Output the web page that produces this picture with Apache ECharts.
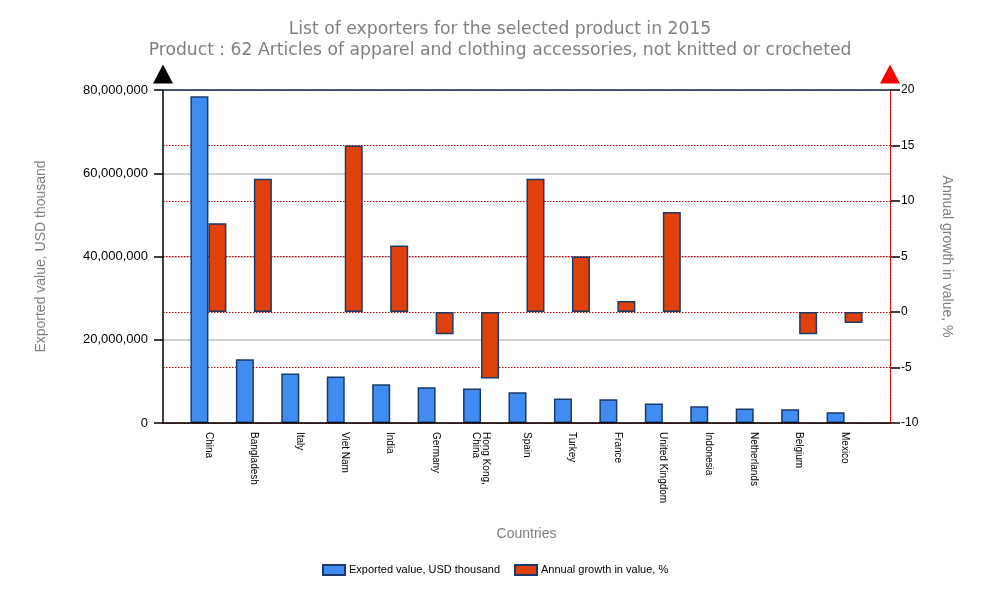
<!DOCTYPE html>
<html>
<head>
<meta charset="utf-8">
<script src="https://cdn.jsdelivr.net/npm/echarts@6/dist/echarts.min.js"></script>
<style>html,body{margin:0;padding:0;background:#fff}#c{width:1000px;height:600px}</style>
</head>
<body>
<div id="c"></div>
<script>
const categories = ['China','Bangladesh','Italy','Viet Nam','India','Germany','Hong Kong, China','Spain','Turkey','France','United Kingdom','Indonesia','Netherlands','Belgium','Mexico'];
const exportedValue = [78500000, 15300000, 11900000, 11200000, 9300000, 8600000, 8300000, 7400000, 5900000, 5700000, 4700000, 4000000, 3500000, 3300000, 2600000];
const annualGrowth = [8, 12, null, 15, 6, -2, -6, 12, 5, 1, 9, null, null, -2, -1];
const titleLines = ['List of exporters for the selected product in 2015', 'Product : 62 Articles of apparel and clothing accessories, not knitted or crocheted'];
const seriesNames = ['Exported value, USD thousand', 'Annual growth in value, %'];

const AF = '"Liberation Sans", Arial, sans-serif';
const TF = '"DejaVu Sans", Verdana, sans-serif';
const GRAY = '#808080';
const chart = echarts.init(document.getElementById('c'), null, {renderer: 'canvas'});

const fmt = v => v.toString().replace(/\B(?=(\d{3})+(?!\d))/g, ',');
const titleStyle = {fontFamily: TF, fontSize: 17.2, fontWeight: 'normal', color: GRAY, lineHeight: 20};

chart.setOption({
  animation: false,
  backgroundColor: '#fff',
  title: [
    {text: titleLines[0], left: 'center', top: 15, textStyle: titleStyle},
    {text: titleLines[1], left: 'center', top: 36, textStyle: titleStyle}
  ],
  legend: {
    bottom: 19, left: 317, itemWidth: 22, itemHeight: 10, itemGap: 14,
    icon: 'rect',
    textStyle: {fontFamily: AF, fontSize: 11, color: '#000', padding: [0, 0, 0, -1]},
    data: seriesNames
  },
  grid: [
    {left: 163, right: 110, top: 90, bottom: 177, containLabel: false},
    {left: 185.7, right: 132.7, top: 90, bottom: 177, containLabel: false}
  ],
  xAxis: [
    {gridIndex: 0, type: 'value', min: 0, max: 1, position: 'bottom', z: 5,
     axisLine: {show: true, onZero: false, lineStyle: {color: '#000', width: 1.5}},
     axisTick: {show: false}, axisLabel: {show: false}, splitLine: {show: false}},
    {gridIndex: 0, type: 'value', min: 0, max: 1, position: 'top', z: 5,
     axisLine: {show: true, onZero: false, lineStyle: {color: '#1f3864', width: 1.5}},
     axisTick: {show: false}, axisLabel: {show: false}, splitLine: {show: false}},
    {gridIndex: 1, type: 'category', data: categories, position: 'bottom',
     axisLine: {show: false}, axisTick: {show: false}, splitLine: {show: false},
     axisLabel: {interval: 0, rotate: -90, margin: 9, fontFamily: AF, fontSize: 10, color: '#000', lineHeight: 10,
       formatter: v => v.replace(', ', ',\n')},
     name: 'Countries', nameLocation: 'middle', nameGap: 104,
     nameTextStyle: {fontFamily: AF, fontSize: 14, color: GRAY}}
  ],
  yAxis: [
    {gridIndex: 0, type: 'value', position: 'left', min: 0, max: 80000000, interval: 20000000,
     axisLine: {show: true, onZero: false, lineStyle: {color: '#000', width: 1.5},
       symbol: ['none', 'triangle'], symbolSize: [20, 19], symbolOffset: [0, 16]},
     axisTick: {show: true, inside: false, length: 9, lineStyle: {color: '#000', width: 1.5}},
     axisLabel: {inside: false, fontFamily: AF, fontSize: 13, color: '#000', margin: 15, formatter: fmt},
     splitLine: {show: true, lineStyle: {color: '#c0c0c0', width: 1.5}},
     name: seriesNames[0], nameLocation: 'middle', nameGap: 115,
     nameTextStyle: {fontFamily: AF, fontSize: 14, color: GRAY}},
    {gridIndex: 0, type: 'value', position: 'right', min: -10, max: 20, interval: 5,
     axisLine: {show: true, onZero: false, lineStyle: {color: '#1f3864', width: 1}},
     axisTick: {show: true, inside: false, length: 10, lineStyle: {color: '#000', width: 1.5}},
     axisLabel: {inside: false, fontFamily: AF, fontSize: 12, color: '#000', margin: 11},
     splitLine: {show: true, lineStyle: {color: '#cc0000', width: 1, type: [1.5, 1.5]}},
     name: seriesNames[1], nameLocation: 'middle', nameGap: 50, nameRotate: -90,
     nameTextStyle: {fontFamily: AF, fontSize: 14, color: GRAY}},
    {gridIndex: 1, type: 'value', min: 0, max: 80000000, interval: 20000000, show: false, splitLine: {show: false}},
    {gridIndex: 1, type: 'value', min: -10, max: 20, interval: 5, show: false, splitLine: {show: false}},
    {gridIndex: 0, type: 'value', position: 'right', min: -10, max: 20, interval: 5, z: 6,
     axisLine: {show: true, onZero: false, lineStyle: {color: '#ff0000', width: 1, type: [1.5, 1.5]},
       symbol: ['none', 'triangle'], symbolSize: [20, 19], symbolOffset: [0, 16]},
     axisTick: {show: false}, axisLabel: {show: false}, splitLine: {show: false}}
  ],
  series: [
    {name: seriesNames[0], type: 'bar', xAxisIndex: 2, yAxisIndex: 2, data: exportedValue,
     barWidth: 18, barGap: '0%', z: 3,
     itemStyle: {color: '#418cf0', borderColor: '#1a3b69', borderWidth: 1.5}},
    {name: seriesNames[1], type: 'bar', xAxisIndex: 2, yAxisIndex: 3, data: annualGrowth,
     barWidth: 18, barGap: '0%', z: 3,
     itemStyle: {color: '#e0400a', borderColor: '#1a3b69', borderWidth: 1.5}}
  ]
});
</script>
</body>
</html>
